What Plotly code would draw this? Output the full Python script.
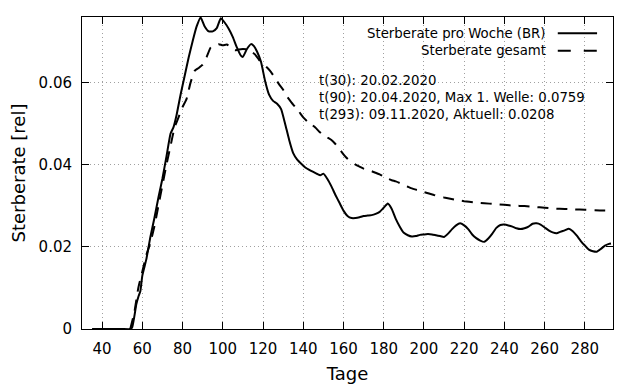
import plotly.graph_objects as go

# ---- data ----
days_week = [35, 40, 45, 50, 54, 55, 56, 57, 58, 59, 60, 62, 64, 66, 68, 70, 72, 74, 75.5, 77, 79, 81,
             83, 85, 87, 89, 91, 93, 95, 97, 99, 101, 103, 105, 107, 109, 110, 112, 114, 115.5, 117,
             119, 121, 123, 125, 127, 129, 131, 133, 135, 137, 139, 141, 143, 145, 147, 148.5, 150,
             152, 154, 156, 158, 160, 162, 164, 166, 168, 170, 172, 174, 176, 178, 180, 182, 184,
             186, 188, 190, 192, 194, 196, 198, 200, 202, 204, 206, 208, 210, 212, 214, 216, 218,
             220, 222, 224, 226, 228, 230, 232, 234, 236, 238, 240, 242, 244, 246, 248, 250, 252,
             254, 256, 258, 260, 262, 264, 266, 268, 270, 272, 274, 276, 278, 280, 282, 284, 286,
             288, 290, 292, 293]
rate_week = [0, 0, 0, 0, 0, 0.0005, 0.003, 0.006, 0.0078, 0.0092, 0.013, 0.017, 0.0224, 0.027, 0.032,
             0.0366, 0.042, 0.0475, 0.0491, 0.052, 0.057, 0.0615, 0.066, 0.070, 0.0736, 0.0758,
             0.0736, 0.0724, 0.0724, 0.0732, 0.0756, 0.0745, 0.073, 0.071, 0.0685, 0.0665, 0.0662,
             0.0681, 0.0693, 0.0688, 0.0675, 0.065, 0.0604, 0.057, 0.0555, 0.0548, 0.0535, 0.0499,
             0.046, 0.0428, 0.0412, 0.0402, 0.0393, 0.0387, 0.0382, 0.0377, 0.0374, 0.0378, 0.0365,
             0.0347, 0.0326, 0.0307, 0.0288, 0.0275, 0.027, 0.027, 0.0272, 0.0275, 0.0276, 0.0277,
             0.028, 0.0285, 0.0295, 0.0305, 0.0292, 0.0268, 0.0249, 0.0234, 0.0228, 0.0225, 0.0226,
             0.0229, 0.023, 0.0231, 0.023, 0.0228, 0.0226, 0.0224, 0.0232, 0.0243, 0.0252, 0.0257,
             0.0252, 0.0243, 0.023, 0.0221, 0.0215, 0.0212, 0.022, 0.0232, 0.0246, 0.0253, 0.0254,
             0.0252, 0.0249, 0.0245, 0.0243, 0.0245, 0.0249, 0.0256, 0.0257, 0.0254, 0.0247, 0.024,
             0.0235, 0.0233, 0.0237, 0.024, 0.0244, 0.0238, 0.0227, 0.0214, 0.0203, 0.0193, 0.0189,
             0.0188, 0.0195, 0.0203, 0.0207, 0.0208]

days_total = [54, 56, 58, 60, 62, 64, 66, 68, 70, 72, 74, 76, 78, 80, 82, 84, 86, 88, 90, 92, 94, 96,
              98, 100, 102, 104, 106, 108, 110, 112, 114, 116, 118, 120, 122, 124, 126, 128, 130,
              132, 134, 136, 138, 140, 142, 144, 146, 148, 150, 152, 154, 156, 158, 160, 162, 164,
              166, 168, 170, 172, 174, 176, 178, 180, 182, 184, 186, 188, 190, 192, 194, 196, 198,
              200, 205, 210, 215, 220, 225, 230, 235, 240, 245, 250, 255, 260, 265, 270, 275, 280,
              285, 290, 293]
rate_total = [0, 0.004, 0.010, 0.014, 0.018, 0.021, 0.025, 0.030, 0.035, 0.040, 0.0445, 0.049, 0.0515,
              0.054, 0.056, 0.060, 0.0628, 0.0635, 0.0643, 0.0662, 0.0685, 0.069, 0.0693, 0.069,
              0.0692, 0.0685, 0.0678, 0.068, 0.0681, 0.068, 0.0676, 0.0668, 0.0655, 0.0645, 0.0636,
              0.0625, 0.061, 0.0595, 0.0582, 0.0565, 0.0552, 0.054, 0.0528, 0.0515, 0.0505, 0.0498,
              0.049, 0.048, 0.0472, 0.0466, 0.046, 0.045, 0.0438, 0.0425, 0.0414, 0.0406, 0.040,
              0.0395, 0.039, 0.0387, 0.0384, 0.038, 0.0376, 0.0371, 0.0366, 0.0362, 0.0359, 0.0355,
              0.035, 0.0346, 0.0342, 0.0339, 0.0336, 0.0333, 0.0326, 0.032, 0.0315, 0.0311, 0.0308,
              0.0306, 0.0304, 0.0302, 0.030, 0.0299, 0.0297, 0.0295, 0.0293, 0.0292, 0.0291, 0.029,
              0.0289, 0.0288, 0.0288]

series_names = ["Sterberate pro Woche (BR)", "Sterberate gesamt"]
x_ticks = list(range(40, 281, 20))
y_ticks = [0, 0.02, 0.04, 0.06]
y_ticklabels = ["0", "0.02", "0.04", "0.06"]
info_lines = ["t(30): 20.02.2020",
              "t(90): 20.04.2020, Max 1. Welle: 0.0759",
              "t(293): 09.11.2020, Aktuell: 0.0208"]

FONT = "DejaVu Sans"

fig = go.Figure()
fig.add_trace(go.Scatter(x=days_week, y=rate_week, mode="lines", name=series_names[0],
                         line=dict(color="black", width=2, shape="spline", smoothing=0.4),
                         showlegend=False))
fig.add_trace(go.Scatter(x=days_total, y=rate_total, mode="lines", name=series_names[1],
                         line=dict(color="black", width=2, dash="11px,8px", shape="spline", smoothing=0.4),
                         showlegend=False))

axis_common = dict(showline=True, linecolor="black", linewidth=1, mirror="allticks",
                   ticks="inside", ticklen=7, tickcolor="black", tickwidth=1,
                   showgrid=True, gridcolor="#a0a0a0", gridwidth=1, griddash="1px,3px",
                   zeroline=False, automargin=False,
                   tickfont=dict(family=FONT, size=15, color="black"))

fig.update_xaxes(range=[30, 294], tickvals=x_ticks,
                 title=dict(text="Tage", font=dict(family=FONT, size=18, color="black"), standoff=10),
                 ticklabelstandoff=6, **axis_common)
fig.update_yaxes(range=[0, 0.0759], tickvals=y_ticks, ticktext=y_ticklabels,
                 title=dict(text="Sterberate [rel]", font=dict(family=FONT, size=18, color="black"), standoff=12),
                 ticklabelstandoff=6, **axis_common)

# manual gnuplot-style key (text right, sample on the right)
key_y = [0.948, 0.892]
key_dash = ["solid", "13px,13px"]
for name, ky, kd in zip(series_names, key_y, key_dash):
    fig.add_annotation(x=0.877, y=ky, xref="paper", yref="paper", text=name, showarrow=False,
                       xanchor="right", yanchor="middle",
                       font=dict(family=FONT, size=13.3, color="black"))
    fig.add_shape(type="line", xref="paper", yref="paper", x0=0.896, x1=0.970, y0=ky, y1=ky,
                  line=dict(color="black", width=2, dash=kd))

for i, txt in enumerate(info_lines):
    fig.add_annotation(x=0.442, y=0.795 - i * 0.053, xref="paper", yref="paper", text=txt,
                       showarrow=False, xanchor="left", yanchor="middle",
                       font=dict(family=FONT, size=13.3, color="black"))

# page body has an 8px margin, so the figure is 8px smaller and offset margins compensate
fig.update_layout(width=632, height=376, margin=dict(l=74, r=27, t=9, b=55, autoexpand=False),
                  paper_bgcolor="white", plot_bgcolor="white",
                  font=dict(family=FONT, color="black"))

fig.write_html("out.html")
